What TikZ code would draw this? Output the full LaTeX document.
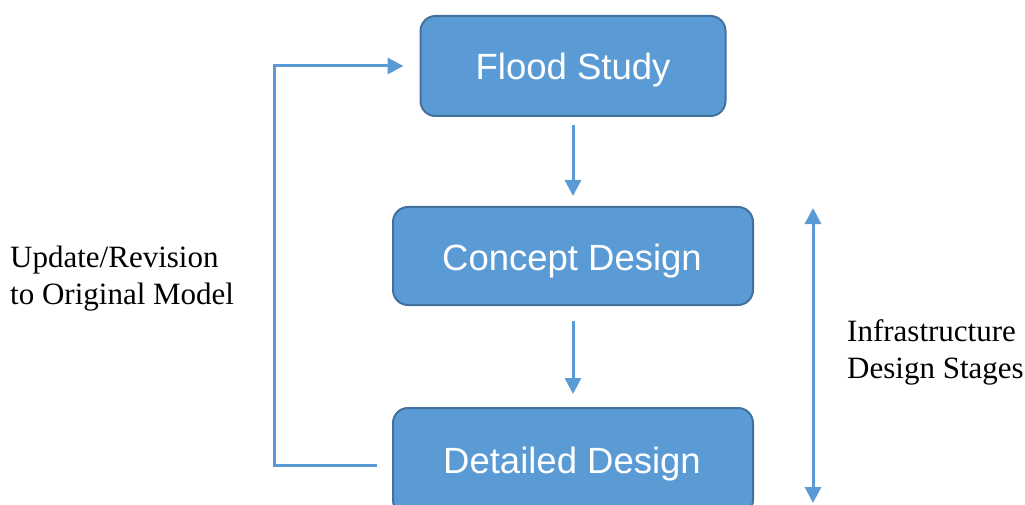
\documentclass[tikz,border=0pt]{standalone}
\usepackage{fontspec}
\setmainfont{Liberation Serif}
\newfontfamily\boxfont{Liberation Sans}
\usetikzlibrary{arrows.meta}
\definecolor{boxfill}{HTML}{5B9BD5}
\definecolor{boxedge}{HTML}{41719C}
\definecolor{arrowblue}{HTML}{5B9BD5}
\tikzset{
  stagebox/.style={draw=boxedge, line width=2pt, fill=boxfill, rounded corners=15pt, inner sep=0pt},
  boxtext/.style={text=white, font=\boxfont\fontsize{36.5}{42}\selectfont, inner sep=0pt},
  flowarrow/.style={draw=arrowblue, line width=3pt,
    -{Triangle[length=16pt,width=16pt]}},
  dblarrow/.style={draw=arrowblue, line width=3pt,
    {Triangle[length=16pt,width=16pt]}-{Triangle[length=16pt,width=16pt]}},
  sidelabel/.style={font=\fontsize{31}{37}\selectfont, align=left, inner sep=0pt}
}
\begin{document}
\begin{tikzpicture}[x=1pt,y=-1pt]
\useasboundingbox (0,0) rectangle (1025,505);
\node[stagebox, minimum width=305pt, minimum height=100pt] (fs) at (573,66) {};
\node[stagebox, minimum width=360pt, minimum height=98pt] (cd) at (573,256) {};
\node[stagebox, minimum width=360pt, minimum height=107pt] (dd) at (573,461.5) {};
\node[boxtext] (fstext) at (573,70) {Flood Study};
\node[boxtext] (cdtext) at (572,261) {Concept Design};
\node[boxtext] (ddtext) at (572,464) {Detailed Design};
\draw[flowarrow, shorten <=8pt, shorten >=10pt] (fs.south) -- (cd.north);
\draw[flowarrow, shorten <=15pt, shorten >=13pt] (cd.south) -- (dd.north);
\coordinate (fbstart) at (377,465);
\coordinate (fbcorner) at (274,465);
\draw[flowarrow, shorten >=16pt] (fbstart) -- (fbcorner) |- (fs.west);
\coordinate (rtop) at (813,208);
\coordinate (rbot) at (813,503);
\draw[dblarrow] (rtop) -- (rbot);
\node[sidelabel, anchor=west] (leftlbl) at (10,279) {Update/Revision\\to Original Model};
\node[sidelabel, anchor=west] (rightlbl) at (847,352) {Infrastructure\\Design Stages};
\end{tikzpicture}
\end{document}
